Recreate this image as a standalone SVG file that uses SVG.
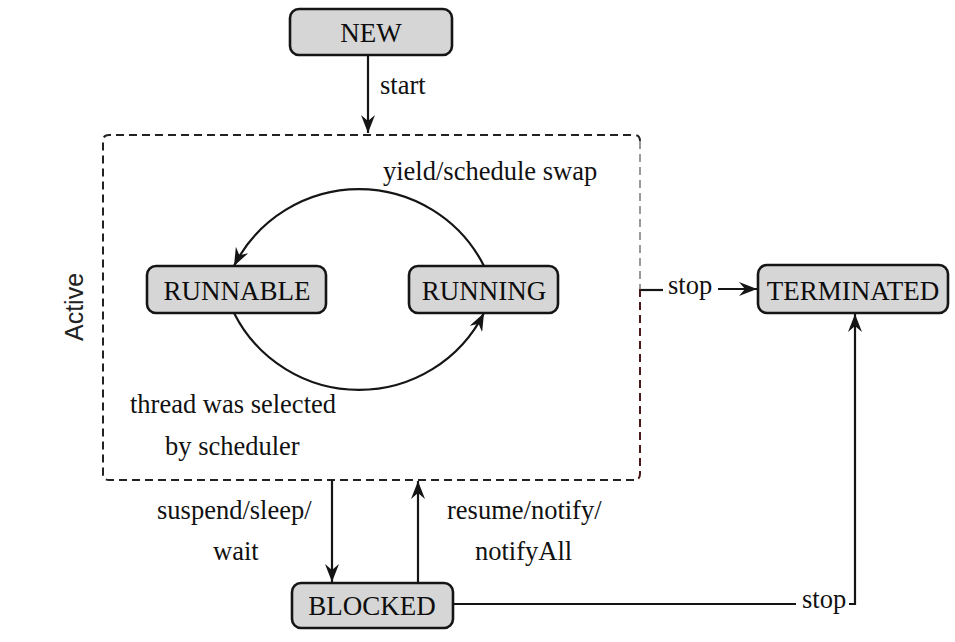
<svg xmlns="http://www.w3.org/2000/svg" width="955" height="642" viewBox="0 0 955 642">
  <style>
    .node rect { fill: #d6d6d6; stroke: #151515; stroke-width: 2.6; }
    .ntxt { font-family: "Liberation Serif", "Times New Roman", serif; font-size: 27px; fill: #0d0d0d; text-anchor: middle; }
    .lbl { font-family: "Liberation Serif", "Times New Roman", serif; font-size: 26.5px; fill: #111; }
    .conn { fill: none; stroke: #151515; stroke-width: 2.2; }
    .dash { fill: none; stroke-width: 2; stroke-dasharray: 8 5; }
  </style>
  <defs>
    <marker id="ah" markerUnits="userSpaceOnUse" markerWidth="18" markerHeight="14" refX="18" refY="7" orient="auto">
      <path d="M0,0 L18,7 L0,14 L6,7 Z" fill="#151515"/>
    </marker>
  </defs>
  <rect width="955" height="642" fill="#ffffff"/>

  <g id="active-region">
    <path class="dash" stroke="#222" d="M 634 480 L 109 480 Q 103 480 103 474 L 103 141 Q 103 135 109 135 L 634 135 Q 640 135 640 141"/>
    <path class="dash" stroke="#9a9a9a" d="M 640 141 L 640 289"/>
    <path class="dash" stroke="#4a1a1a" d="M 640 289 L 640 474 Q 640 480 634 480"/>
    <text transform="translate(83,307) rotate(-90)" text-anchor="middle" font-family="Liberation Sans, Arial, sans-serif" font-size="25" fill="#222">Active</text>
  </g>

  <g id="new" class="node">
    <rect x="290" y="9" width="162" height="46" rx="9"/>
    <text class="ntxt" x="371" y="42" font-size="26">NEW</text>
  </g>
  <g id="runnable" class="node">
    <rect x="147" y="266" width="179" height="47" rx="9"/>
    <text class="ntxt" x="237" y="300">RUNNABLE</text>
  </g>
  <g id="running" class="node">
    <rect x="409" y="266" width="149" height="47" rx="9"/>
    <text class="ntxt" x="484" y="300">RUNNING</text>
  </g>
  <g id="terminated" class="node">
    <rect x="758" y="265" width="190" height="48" rx="9"/>
    <text class="ntxt" x="853" y="300">TERMINATED</text>
  </g>
  <g id="blocked" class="node">
    <rect x="292" y="583" width="161" height="45" rx="9"/>
    <text class="ntxt" x="372" y="615">BLOCKED</text>
  </g>

  <g id="connectors">
    <path class="conn" d="M 368 56 L 368 133" marker-end="url(#ah)"/>
    <path class="conn" d="M 484 266 A 140 140 0 0 0 234 266" marker-end="url(#ah)"/>
    <path class="conn" d="M 234 313 A 140 140 0 0 0 484 313" marker-end="url(#ah)"/>
    <path class="conn" d="M 641 290 L 663 290"/>
    <path class="conn" d="M 718 289 L 757 289" marker-end="url(#ah)"/>
    <path class="conn" d="M 332 480 L 332 582" marker-end="url(#ah)"/>
    <path class="conn" d="M 418 583 L 418 481" marker-end="url(#ah)"/>
    <path class="conn" d="M 453 604 L 796 604"/>
    <path class="conn" d="M 849 604 L 855 604 L 855 314" marker-end="url(#ah)"/>
  </g>

  <g id="labels">
    <text class="lbl" x="380" y="94">start</text>
    <text class="lbl" x="383" y="180">yield/schedule swap</text>
    <text class="lbl" x="130" y="413">thread was selected</text>
    <text class="lbl" x="165" y="455">by scheduler</text>
    <text class="lbl" x="157" y="519">suspend/sleep/</text>
    <text class="lbl" x="213" y="560">wait</text>
    <text class="lbl" x="447" y="519">resume/notify/</text>
    <text class="lbl" x="475" y="560">notifyAll</text>
    <text class="lbl" x="668" y="294">stop</text>
    <text class="lbl" x="802" y="608">stop</text>
  </g>
</svg>
